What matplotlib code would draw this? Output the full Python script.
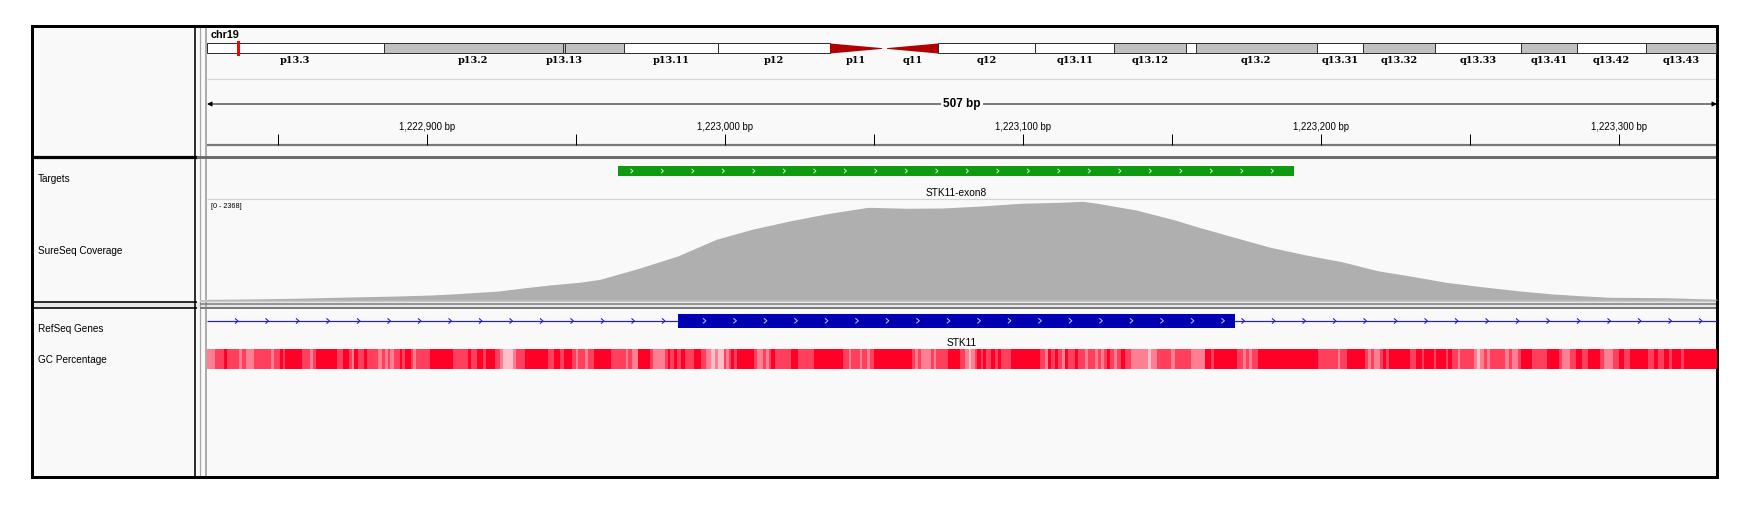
import numpy as np
import matplotlib
matplotlib.use("Agg")
import matplotlib.pyplot as plt
from matplotlib.patches import Rectangle, Polygon
from matplotlib.collections import LineCollection
from matplotlib.colors import LinearSegmentedColormap, Normalize

# ---------------- data ----------------
chrom = "chr19"
view_start = 1222826
view_end = 1223333
chrom_len_mb = 58.6

band_names = ["p13.3", "p13.2", "p13.13", "p13.12", "p13.11", "p12", "p11", "q11", "q12",
              "q13.11", "q13.12", "q13.13", "q13.2", "q13.31", "q13.32", "q13.33", "q13.41",
              "q13.42", "q13.43"]
band_starts = [0.0, 6.85, 13.82, 13.90, 16.18, 19.83, 24.18, 26.39, 28.37, 32.15, 35.20,
               37.99, 38.38, 43.06, 44.86, 47.64, 51.00, 53.17, 55.85]
band_ends = [6.85, 13.82, 13.90, 16.18, 19.83, 24.18, 26.20, 28.37, 32.15, 35.20, 37.99,
             38.38, 43.06, 44.86, 47.64, 51.00, 53.17, 55.85, 58.56]
band_stains = ["gneg", "gpos", "gpos", "gpos", "gneg", "gneg", "acen", "acen", "gneg",
               "gneg", "gpos", "gneg", "gpos", "gneg", "gpos", "gneg", "gpos", "gneg", "gpos"]
band_label_shown = [True, True, True, False, True, True, True, True, True,
                    True, True, False, True, True, True, True, True, True, True]

target_name = "STK11-exon8"
target_start = 1222964
target_end = 1223191

gene_name = "STK11"
exon_start = 1222984
exon_end = 1223171

cov_max = 2368
cov_pos = [1222826, 1222840, 1222855, 1222874, 1222890, 1222901, 1222908, 1222915, 1222924,
           1222932, 1222941, 1222951, 1222958, 1222971, 1222984, 1222997, 1223009, 1223022,
           1223035, 1223048, 1223061, 1223073, 1223086, 1223099, 1223112, 1223120, 1223125,
           1223138, 1223151, 1223159, 1223171, 1223183, 1223195, 1223207, 1223219, 1223230,
           1223242, 1223254, 1223266, 1223278, 1223289, 1223297, 1223316, 1223333]
cov_val = [15, 25, 40, 71, 94, 118, 141, 172, 212,
           283, 353, 417, 488, 747, 1037, 1430, 1666, 1868,
           2043, 2184, 2161, 2168, 2215, 2278, 2302, 2325, 2278,
           2120, 1885, 1713, 1477, 1242, 1060, 902, 690, 565,
           417, 313, 219, 141, 94, 64, 54, 20]

# GC percentage segments: boundaries as bp offsets from view_start
gc_breaks = [
    0, 2.7, 5.7, 6.8, 10.9, 11.9, 13.0, 15.9, 21.5, 22.6,
    24.5, 25.4, 26.2, 31.8, 34.7, 35.6, 36.6, 43.7, 45.7, 47.7,
    48.6, 49.3, 50.6, 52.6, 53.7, 57.5, 58.7, 59.8, 60.7, 61.6,
    62.7, 64.9, 65.6, 66.5, 68.5, 69.2, 70.1, 74.8, 82.5, 87.8,
    88.6, 90.8, 92.6, 93.7, 96.7, 98.4, 99.3, 102.9, 103.8, 106.8,
    114.6, 116.4, 118.6, 119.7, 122.5, 123.8, 124.7, 126.9, 127.8, 130.0,
    135.7, 140.6, 141.5, 142.6, 144.8, 148.8, 149.7, 153.8, 154.7, 155.6,
    156.7, 157.8, 159.2, 160.5, 163.4, 165.7, 167.6, 168.9,
    169.3, 170.4, 171.6, 173.6, 174.4, 175.3, 176.0, 176.9, 178.0, 183.6,
    184.8, 186.7, 187.8, 188.7, 189.5, 190.6, 196.0, 198.6, 203.8, 213.5,
    215.4, 216.3, 219.1, 220.0, 221.7, 222.7, 223.8, 236.7, 237.6, 238.7,
    239.8, 243.0, 244.1, 244.9, 248.8, 252.7, 254.6, 255.7, 256.6, 257.7,
    258.6, 259.8, 260.7, 261.6, 263.3, 264.5, 265.6, 266.7, 269.8, 279.6,
    281.5, 282.4, 283.5, 284.6, 285.7, 287.1, 288.2, 289.1, 291.3, 292.4,
    294.7, 295.8, 298.0, 299.2, 300.1, 301.2, 302.3, 303.2, 304.5, 305.7,
    307.0, 308.1, 310.1, 316.0, 317.1, 319.1, 323.8, 324.9, 330.5, 335.0, 337.1,
    338.0, 345.8, 347.7, 348.9, 350.0, 350.8, 352.8, 372.9, 379.6, 380.5,
    382.8, 388.8, 389.9, 390.8, 391.7, 393.7, 394.7, 395.9, 396.8, 403.9,
    405.9, 407.8, 408.7, 411.9, 412.8, 416.0, 416.8, 417.9, 419.9, 420.8,
    424.2, 425.5, 426.4, 427.5, 428.7, 429.8, 430.9, 435.9, 437.1, 438.2,
    440.1, 441.2, 444.8, 449.9, 454.0, 455.0, 457.5, 459.8, 461.8, 463.8,
    467.8, 469.0, 472.0, 474.1, 475.9, 477.7, 483.8, 486.0, 487.1, 489.1,
    490.9, 492.0, 494.9, 496.0, 507.0]
gc_pct = [
    52, 62, 72, 62, 52, 62, 52, 62, 52, 62,
    72, 62, 72, 62, 52, 62, 72, 62, 72, 62,
    52, 72, 62, 72, 62, 52, 62, 52, 62, 52,
    62, 72, 62, 72, 62, 52, 62, 72, 62, 72,
    62, 72, 62, 72, 62, 52, 42, 52, 62, 72,
    62, 72, 62, 72, 62, 52, 62, 52, 62, 72,
    62, 52, 62, 52, 72, 62, 52, 62, 72, 62,
    72, 62, 72, 62, 72, 62, 52,
    52, 42, 52, 42, 62, 52, 62, 72, 62, 72,
    62, 52, 62, 52, 62, 72, 62, 72, 62, 72,
    62, 52, 62, 52, 62, 52, 62, 72, 62, 52,
    62, 52, 62, 52, 62, 72, 62, 52, 42, 52,
    62, 72, 62, 72, 62, 72, 62, 72, 62, 72,
    62, 52, 72, 62, 72, 62, 52, 72, 62, 72,
    62, 52, 62, 52, 62, 52, 62, 72, 62, 52,
    62, 72, 62, 52, 42, 52, 62, 52, 62, 52,
    72,
    62, 72, 62, 52, 62, 52, 62, 72, 62, 52,
    62, 72, 62, 52, 62, 52, 62, 72, 62, 72,
    62, 72, 62, 72, 62, 72, 62, 72, 62, 52,
    62, 62, 52, 42, 52, 62, 52, 62, 52, 62,
    52, 62, 72, 62, 72, 62, 52, 62, 72, 62,
    72, 62, 52, 62, 72, 62, 72, 62, 72, 62,
    72, 62, 72, 62, 72]

track_names = ["Targets", "SureSeq Coverage", "RefSeq Genes", "GC Percentage"]

# ---------------- layout (pixels) ----------------
W, H = 1752, 511
fig = plt.figure(figsize=(W / 100, H / 100), dpi=100)
fig.patch.set_facecolor("white")
PT = 0.72  # points per pixel

def pax(x0, y0, x1, y1):
    ax = fig.add_axes([x0 / W, 1 - y1 / H, (x1 - x0) / W, (y1 - y0) / H])
    ax.set_axis_off()
    return ax

L0, L1 = 32, 195          # name panel
D0, D1 = 207, 1717        # data panel
T0, T1 = 26, 477          # top / bottom
PANEL = "#f9f9f9"

base = pax(0, 0, W, H)
base.set_xlim(0, W)
base.set_ylim(H, 0)
base.add_patch(Rectangle((L0, T0), D1 - L0, T1 - T0, facecolor=PANEL, edgecolor="none", zorder=0))

# separators
base.vlines(195, T0, T1, color="black", lw=1.6 * PT, zorder=3)
base.vlines(200, T0, T1, color="#a4a4a4", lw=1.2 * PT, zorder=3)
base.vlines(206, T0, T1, color="#9a9a9a", lw=1.6 * PT, zorder=3)
base.hlines(157, L0, 197, color="black", lw=3.2 * PT, zorder=3)
base.hlines(157, 197, D1, color="#6c6c6c", lw=3.0 * PT, zorder=3)
base.add_patch(Rectangle((L0, 302.5), D1 - L0, 5.5, facecolor="#e8e8e8", edgecolor="none", zorder=2))
base.hlines(302.5, L0, 197, color="black", lw=1.6 * PT, zorder=3)
base.hlines(308, L0, 197, color="black", lw=1.6 * PT, zorder=3)
base.hlines(301, 200, D1, color="#c6c6c6", lw=2.0 * PT, zorder=3)
base.hlines(304, 200, D1, color="#7c7c7c", lw=1.5 * PT, zorder=3)
base.hlines(307.6, 200, D1, color="#7c7c7c", lw=2.0 * PT, zorder=3)
base.hlines(79, D0, D1, color="#d6d6d6", lw=1.2 * PT, zorder=3)
base.hlines(145.5, D0, D1, color="#777777", lw=2.2 * PT, zorder=3)
base.hlines(199.5, D0, D1, color="#d2d2d2", lw=1.2 * PT, zorder=3)
base.add_patch(Rectangle((L0, T0), D1 - L0, T1 - T0, facecolor="none", edgecolor="black",
                         lw=3.0 * PT, zorder=6))

# track names
name_y = [179.5, 250.5, 329.5, 360.0]
for nm, yy in zip(track_names, name_y):
    base.text(38, yy, nm, fontsize=7.2, family="Liberation Sans", ha="left", va="center", zorder=5)

# ---------------- ideogram ----------------
ax_id = pax(D0, T0, D1, T1)
ax_id.set_xlim(0, chrom_len_mb)
ax_id.set_ylim(T1, T0)
iy0, iy1 = 43.5, 53.5
for nm, s, e, st, show in zip(band_names, band_starts, band_ends, band_stains, band_label_shown):
    if st == "acen":
        if nm.startswith("p"):
            pts = [(s, iy0), (s, iy1), (e, (iy0 + iy1) / 2 + 0.4), (e, (iy0 + iy1) / 2 - 0.4)]
        else:
            pts = [(s, (iy0 + iy1) / 2 - 0.4), (s, (iy0 + iy1) / 2 + 0.4), (e, iy1), (e, iy0)]
        ax_id.add_patch(Polygon(pts, closed=True, facecolor="#b00000", edgecolor="none", zorder=2))
    else:
        fc = "white" if st == "gneg" else "#c0c0c0"
        ax_id.add_patch(Rectangle((s, iy0), e - s, iy1 - iy0, facecolor=fc, edgecolor="#303030",
                                  lw=1.0 * PT, zorder=2))
    if show:
        ax_id.text((s + e) / 2, 60.5, nm, fontsize=7, family="DejaVu Serif", weight="bold",
                   ha="center", va="center", zorder=4)
locus_mb = (view_start + view_end) / 2 / 1e6
ax_id.add_patch(Rectangle((locus_mb - 0.075, 41.5), 0.15, 15, facecolor="#ff0000",
                          edgecolor="none", zorder=5))
ax_id.text(0.15, 35.5, chrom, fontsize=7.8, family="Liberation Sans", weight="bold",
           ha="left", va="center", zorder=4)

# ---------------- bp-scaled tracks ----------------
ax = pax(D0, T0, D1, T1)
ax.set_xlim(view_start, view_end)
ax.set_ylim(T1, T0)
bp_per_px = (view_end - view_start) / (D1 - D0)

# ruler
ax.annotate("", xy=(view_start, 104), xytext=(view_end, 104), zorder=3,
            arrowprops=dict(arrowstyle="<|-|>", color="black", lw=1.0 * PT,
                            mutation_scale=7, shrinkA=0, shrinkB=0))
ax.text((view_start + view_end) / 2, 104, f"{view_end - view_start} bp", fontsize=8.5,
        family="Liberation Sans", weight="bold", ha="center", va="center", zorder=4,
        bbox=dict(facecolor=PANEL, edgecolor="none", pad=1.5))
first_tick = int(np.ceil(view_start / 50.0) * 50)
for t in range(first_tick, view_end + 1, 50):
    ax.vlines(t, 134.5, 145, color="black", lw=1.0 * PT, zorder=3)
    if t % 100 == 0:
        ax.text(t, 127, f"{t:,} bp", fontsize=6.9, family="Liberation Sans",
                ha="center", va="center", zorder=4)

def chevrons(xs, yc, half_h, half_w, color, lw):
    segs = [[(x - half_w, yc - half_h), (x, yc), (x - half_w, yc + half_h)] for x in xs]
    ax.add_collection(LineCollection(segs, colors=color, linewidths=lw, zorder=5))

chev_step = 30.5 * bp_per_px

# targets
ax.add_patch(Rectangle((target_start, 166), target_end - target_start, 10,
                       facecolor="#109a10", edgecolor="none", zorder=4))
chevrons(np.arange(target_start + 5.0, target_end - 1, chev_step), 171, 2.2, 0.8, "#dff5df", 0.9 * PT)
ax.text((target_start + target_end) / 2, 192.5, target_name, fontsize=7.3,
        family="Liberation Sans", ha="center", va="center", zorder=4)

# genes
ax.hlines(321, view_start, view_end, color="#2020d8", lw=1.2 * PT, zorder=3)
line_x = [x for x in np.arange(view_start + 10.4, view_end, chev_step)
          if not (exon_start - 1 < x < exon_end + 1)]
chevrons(line_x, 321, 2.6, 1.0, "#2020d8", 1.1 * PT)
ax.add_patch(Rectangle((exon_start, 314), exon_end - exon_start, 13.5,
                       facecolor="#0000b2", edgecolor="none", zorder=4))
chevrons(np.arange(exon_start + 9.5, exon_end - 2, chev_step), 320.8, 2.5, 1.0, "#c0c0ff", 1.0 * PT)
ax.text((view_start + view_end) / 2, 342.5, gene_name, fontsize=7.3,
        family="Liberation Sans", ha="center", va="center", zorder=4)

# GC percentage
gc_cmap = LinearSegmentedColormap.from_list("gc", ["#ffffff", "#ff0026"])
gc_norm = Normalize(vmin=32, vmax=72)
nseg = min(len(gc_pct), len(gc_breaks) - 1)
lefts = view_start + np.array(gc_breaks[:nseg], dtype=float)
widths = np.diff(np.array(gc_breaks[:nseg + 1], dtype=float))
ax.bar(lefts, np.full(nseg, 20.5), width=widths + 0.02, bottom=348.8, align="edge",
       color=gc_cmap(gc_norm(np.array(gc_pct[:nseg]))), edgecolor="none", zorder=4)

# coverage
ax_cov = pax(D0, 199.5, D1, 300)
ax_cov.set_xlim(view_start, view_end)
ax_cov.set_ylim(0, cov_max)
ax_cov.fill_between(cov_pos, cov_val, 0, color="#afafaf", lw=0, zorder=2)
ax_cov.text(view_start + 1.3, cov_max * 0.93, f"[0 - {cov_max}]", fontsize=5.2,
            family="Liberation Sans", ha="left", va="center", zorder=4)

fig.savefig("out.png", dpi=100, facecolor="white")
